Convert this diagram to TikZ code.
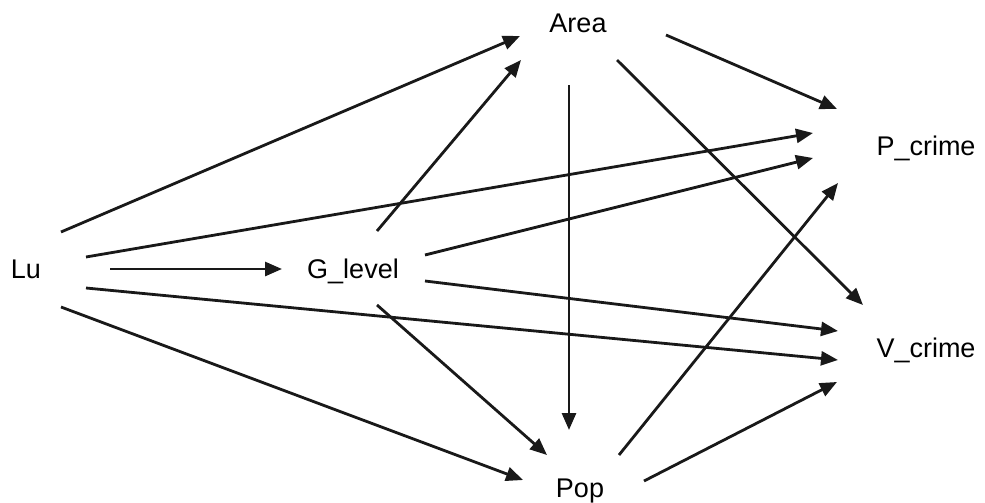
\documentclass[tikz,border=0pt]{standalone}
\usepackage{fontspec}
\setmainfont{Liberation Sans}
\usetikzlibrary{arrows.meta,calc}
\begin{document}
\begin{tikzpicture}[x=1pt,y=-1pt,
  var/.style={inner sep=0pt,anchor=base,font=\fontsize{27}{32}\selectfont},
  link/.style={line width=2.8pt,draw=black!90,-{Triangle[length=17pt,width=14pt]}}]
\useasboundingbox (0,0) rectangle (985,503);
\fill[white] (0,0) rectangle (985,503);

% variables
\node[var] (Lu)   at (26,278)  {Lu};
\node[var] (G)    at (353,278) {G\_level};
\node[var] (Area) at (578,33)  {Area};
\node[var] (P)    at (926,155) {P\_crime};
\node[var] (V)    at (926,357) {V\_crime};
\node[var] (Pop)  at (580,497) {Pop};

% paths out of Lu
\draw[link] ($(Lu.base)+(35,-46)$) -- ($(Area.base)+(-58,3)$);
\draw[link] ($(Lu.base)+(60,-21)$) -- ($(P.base)+(-113,-22)$);
\draw[link] ($(Lu.base)+(84,-9)$)  -- ($(G.base)+(-71,-9)$);
\draw[link] ($(Lu.base)+(60,10)$)  -- ($(V.base)+(-88,3)$);
\draw[link] ($(Lu.base)+(35,29)$)  -- ($(Pop.base)+(-57,-17)$);

% paths out of G_level
\draw[link] ($(G.base)+(24,-47)$) -- ($(Area.base)+(-57,27)$);
\draw[link] ($(G.base)+(72,-23)$) -- ($(P.base)+(-113,3)$);
\draw[link] ($(G.base)+(72,3)$)   -- ($(V.base)+(-88,-26)$);
\draw[link] ($(G.base)+(24,27)$)  -- ($(Pop.base)+(-33,-42)$);

% paths out of Area
\draw[link] ($(Area.base)+(88,2)$)  -- ($(P.base)+(-89,-46)$);
\draw[link] ($(Area.base)+(-9,52)$) -- ($(Pop.base)+(-11,-67)$);
\draw[link] ($(Area.base)+(39,27)$) -- ($(V.base)+(-63,-52)$);

% paths out of Pop
\draw[link] ($(Pop.base)+(39,-42)$) -- ($(P.base)+(-88,28)$);
\draw[link] ($(Pop.base)+(64,-16)$) -- ($(V.base)+(-89,25)$);
\end{tikzpicture}
\end{document}
